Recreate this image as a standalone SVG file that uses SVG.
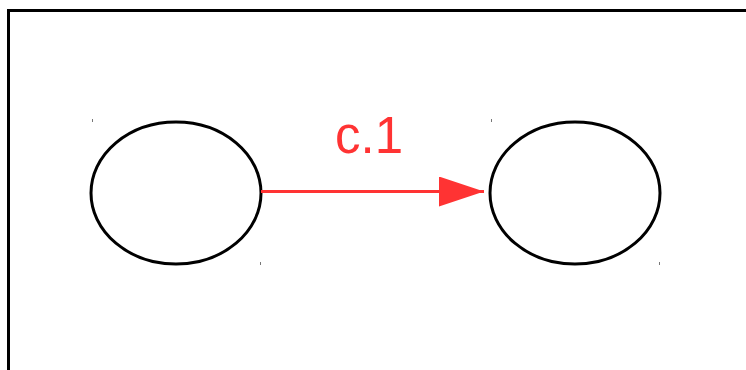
<svg xmlns="http://www.w3.org/2000/svg" width="746" height="370" viewBox="0 0 746 370">
<style>
.frame{fill:none;stroke:#000;stroke-width:3}
.node{fill:#fff;stroke:#000;stroke-width:3}
.tick{stroke:#777;stroke-width:1}
.edge{stroke:#ff3333;stroke-width:3;fill:none}
.lbl{font-family:"Liberation Sans",Arial,sans-serif;font-size:51px;fill:#ff3333}
</style>
<defs>
<marker id="ah" markerUnits="userSpaceOnUse" markerWidth="46" markerHeight="30" refX="45" refY="15" orient="auto">
<polygon points="0,0 45,15 0,30" fill="#ff3333"/>
</marker>
</defs>
<rect class="frame" x="8.5" y="10.5" width="760" height="400"/>
<g id="n1">
<ellipse class="node" cx="176" cy="193" rx="85" ry="71"/>
<line class="tick" x1="92.5" y1="119" x2="92.5" y2="122"/>
<line class="tick" x1="260.5" y1="262" x2="260.5" y2="265"/>
</g>
<g id="n2">
<ellipse class="node" cx="575" cy="193" rx="85" ry="71"/>
<line class="tick" x1="491.5" y1="119" x2="491.5" y2="122"/>
<line class="tick" x1="659.5" y1="262" x2="659.5" y2="265"/>
</g>
<g id="edges">
<line class="edge" x1="261" y1="191.5" x2="484" y2="191.5" marker-end="url(#ah)"/>
<text class="lbl" x="369" y="153" text-anchor="middle">c.1</text>
</g>
</svg>
